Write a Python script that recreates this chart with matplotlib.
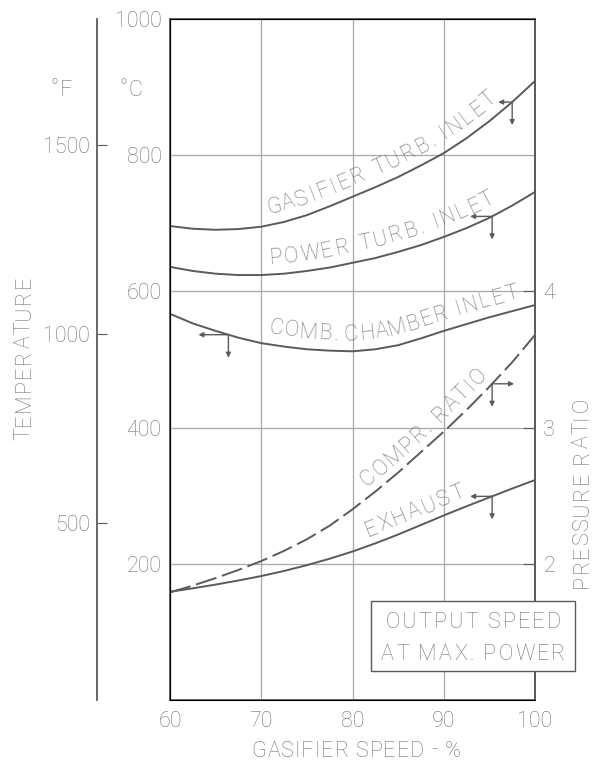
import numpy as np
import matplotlib.pyplot as plt
from matplotlib.font_manager import FontProperties, findfont, get_font
from matplotlib.patches import Rectangle

plt.rcParams['font.family'] = ['Roboto', 'DejaVu Sans']
plt.rcParams['font.weight'] = 'light'

# gasifier speed, %
speed = [60, 62.5, 65, 67.5, 70, 72.5, 75, 77.5, 80, 82.5, 85, 87.5, 90, 92.5, 95, 97.5, 100]
# temperatures, deg C
gasifier_turb_inlet = [696, 692, 690.5, 691.5, 695, 702, 712, 725, 739, 753, 768, 785, 803, 825, 850, 878, 909]
power_turb_inlet = [636, 630, 626, 624, 624, 626, 630, 635, 642, 649, 658, 668, 680, 693, 708, 726, 746]
comb_chamber_inlet = [567, 553, 542, 532, 524, 519, 515, 513, 512, 515, 521, 531, 542, 552, 562, 571, 580]
exhaust = [159, 164, 169.5, 175.5, 182, 189.5, 198, 207.5, 218, 230, 243, 257, 271, 284.5, 297.5, 310.5, 323]
# pressure ratio
compr_ratio = [1.79, 1.84, 1.895, 1.955, 2.02, 2.095, 2.18, 2.28, 2.40, 2.53, 2.67, 2.82, 2.97, 3.13, 3.30, 3.48, 3.68]

x_ticks = [60, 70, 80, 90, 100]
c_ticks = [200, 400, 600, 800, 1000]
f_ticks = [500, 1000, 1500]
p_ticks = [2, 3, 4]

line_col = '#5a5a5a'
text_col = '#727272'
grid_col = '#a8a8a8'
fs = 15.5

fig = plt.figure(figsize=(5.92, 7.64), dpi=100)
ax = fig.add_axes([170 / 592, 64 / 764, 365 / 592, 681 / 764])
ax.set_xlim(60, 100)
ax.set_ylim(0, 1000)
ax.set_xticks(x_ticks)
ax.set_yticks(c_ticks)
ax.tick_params(length=0, labelsize=fs, labelcolor=text_col)
ax.tick_params(axis='x', pad=8)
ax.tick_params(axis='y', pad=6)
ax.grid(True, color=grid_col, lw=0.9)
for sp in ax.spines.values():
    sp.set_color(line_col)
    sp.set_linewidth(1.3)

ax2 = ax.twinx()
ax2.set_ylim(1, 6)
ax2.set_yticks(p_ticks)
ax2.tick_params(direction='in', length=9, color=line_col, labelsize=fs,
                labelcolor=text_col, pad=6)
ax2.spines['right'].set_color(line_col)
ax2.spines['right'].set_linewidth(1.3)

# deg F scale
fax = ax.secondary_yaxis(-0.2, functions=(lambda c: c * 9 / 5 + 32, lambda f: (f - 32) * 5 / 9))
fax.set_yticks(f_ticks)
fax.tick_params(direction='in', length=7, color=line_col, labelsize=fs,
                labelcolor=text_col, pad=5)
fax.spines['left'].set_color(line_col)
fax.spines['left'].set_linewidth(1.3)

lw = 1.4
ax.plot(speed, gasifier_turb_inlet, color=line_col, lw=lw)
ax.plot(speed, power_turb_inlet, color=line_col, lw=lw)
ax.plot(speed, comb_chamber_inlet, color=line_col, lw=lw)
ax.plot(speed, exhaust, color=line_col, lw=lw)
ax2.plot(speed, compr_ratio, color=line_col, lw=lw, dashes=(11, 3))

prop = FontProperties(family=['Roboto', 'DejaVu Sans'], weight='light', size=fs)
ft = get_font(findfont(prop))
ft.set_size(fs, 100)
cap = fs / 72 * 100 * 0.71


def char_centres(text, track):
    adv = [ft.load_char(ord(c)).linearHoriAdvance / 65536 for c in text]
    cen = [sum(adv[:i]) + adv[i] / 2 + track * i for i in range(len(text))]
    return cen, sum(adv) + track * (len(text) - 1)


def put_char(px, py, ch, ang):
    if ch != ' ':
        fig.text(px, py, ch, transform=None, fontproperties=prop, color=text_col,
                 rotation=ang, ha='center', va='baseline', rotation_mode='anchor')


def tracked_text(x, y, text, ang=0, track=2.0):
    # x, y: centre in figure pixels from top-left
    y = 764 - y
    t = np.radians(ang)
    ux, uy = np.cos(t), np.sin(t)
    cen, total = char_centres(text, track)
    bx, by = x + uy * cap / 2, y - ux * cap / 2
    for ch, c in zip(text, cen):
        k = c - total / 2
        put_char(bx + ux * k, by + uy * k, ch, ang)


def curve_label(axis, xs, ys, text, x_start, offset=11, track=2.8):
    pts = axis.transData.transform(np.column_stack([xs, ys]))
    d = np.r_[0, np.cumsum(np.hypot(*np.diff(pts, axis=0).T))]
    p0 = axis.transData.transform((x_start, np.interp(x_start, xs, ys)))
    s0 = np.interp(p0[0], pts[:, 0], d)
    cen, _ = char_centres(text, track)
    for ch, c in zip(text, cen):
        s = s0 + c
        px = np.interp(s, d, pts[:, 0])
        py = np.interp(s, d, pts[:, 1])
        j = int(np.clip(np.searchsorted(d, s), 1, len(d) - 1))
        dx, dy = pts[j] - pts[j - 1]
        n = np.hypot(dx, dy)
        put_char(px - dy / n * offset, py + dx / n * offset, ch, np.degrees(np.arctan2(dy, dx)))


def axis_arrow(axis, xs, ys, x_at, left=True, hlen=22, vlen=23):
    px, py = axis.transData.transform((x_at, np.interp(x_at, xs, ys)))
    style = dict(arrowstyle='-|>', color=line_col, lw=1.0, mutation_scale=7,
                 shrinkA=0, shrinkB=0)
    hx = px - hlen if left else px + hlen
    for end in [(hx, py), (px, py - vlen)]:
        fig.add_artist(plt.Annotation('', xy=end, xytext=(px, py), xycoords='figure pixels',
                                      textcoords='figure pixels', arrowprops=style))


curve_label(ax, speed, gasifier_turb_inlet, 'GASIFIER TURB. INLET', 71, track=2.5)
curve_label(ax, speed, power_turb_inlet, 'POWER TURB. INLET', 71, track=2.6)
curve_label(ax, speed, comb_chamber_inlet, 'COMB. CHAMBER INLET', 70.6, track=1.7)
curve_label(ax2, speed, compr_ratio, 'COMPR. RATIO', 82.2, offset=9, track=2.0)
curve_label(ax, speed, exhaust, 'EXHAUST', 82.0, offset=9, track=2.3)

axis_arrow(ax, speed, gasifier_turb_inlet, 97.5, hlen=14)
axis_arrow(ax, speed, power_turb_inlet, 95.3)
axis_arrow(ax, speed, comb_chamber_inlet, 66.4, hlen=30)
axis_arrow(ax2, speed, compr_ratio, 95.3, left=False)
axis_arrow(ax, speed, exhaust, 95.3)

# note box
fig.add_artist(Rectangle((371, 764 - 671), 204, 70, transform=None, fc='white',
                         ec=line_col, lw=1.0, zorder=5))
tracked_text(473, 620, 'OUTPUT SPEED', track=2.2)
tracked_text(473, 652, 'AT MAX. POWER', track=2.2)

tracked_text(61, 88, '°F', track=1)
tracked_text(131, 88, '°C', track=1)
tracked_text(22, 358, 'TEMPERATURE', ang=90, track=1.5)
tracked_text(580, 493, 'PRESSURE RATIO', ang=90, track=1.5)
tracked_text(356, 749, 'GASIFIER SPEED - %', track=1.0)

for t in fig.texts:
    t.set_zorder(6)

fig.savefig('out.png', dpi=100, facecolor='white')
